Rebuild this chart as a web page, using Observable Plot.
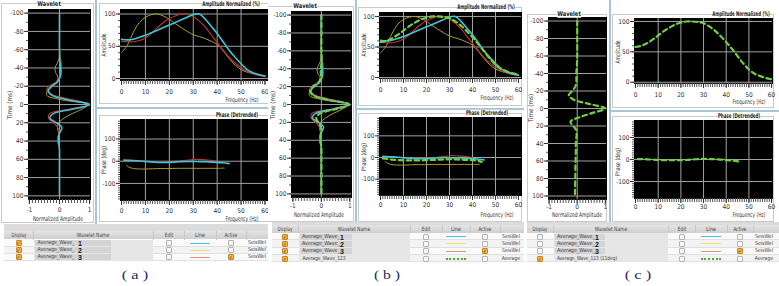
<!DOCTYPE html>
<html><head><meta charset="utf-8">
<script src="https://cdn.jsdelivr.net/npm/d3@7"></script>
<script src="https://cdn.jsdelivr.net/npm/@observablehq/plot@0.6"></script>
<style>
body{margin:0;background:#fff;}
#root{position:relative;width:779px;height:286px;overflow:hidden;background:#fff;}
</style></head><body><div id="root"></div>
<script>
// ================= DATA =================
const waveTime = [-100,-80,-60,-50,-45,-40,-35,-30,-25,-20,-15,-10,-5,0,5,10,15,20,25,30,35,40,45,50,60,80,100];
const wave1   = [0,0,0,0.01,0.02,0.04,0.05,0.02,-0.06,-0.25,-0.37,-0.25,0.3,1.0,0.45,-0.2,-0.32,-0.1,0.08,0.02,-0.03,-0.03,-0.01,0,0,0,0];
const wave2   = [0,0,0,-0.02,-0.08,-0.15,-0.13,-0.05,-0.1,-0.28,-0.4,-0.42,0.1,0.95,0.75,0.42,0.15,-0.02,-0.07,-0.04,0,-0.02,0,0,0,0,0];
const wave3   = [0,0,0,0.03,0.06,0.05,0.03,0,-0.1,-0.35,-0.42,-0.18,0.45,1.0,0.35,-0.33,-0.36,-0.2,-0.06,0,-0.05,-0.07,-0.03,0,0,0,0];
const waveAvg = [0,0,0,0.01,0,-0.02,-0.02,-0.01,-0.09,-0.29,-0.4,-0.28,0.28,0.98,0.52,-0.04,-0.18,-0.11,-0.02,-0.01,-0.03,-0.04,-0.01,0,0,0,0];
const waveRot = [0,0,0,-0.01,-0.02,-0.03,-0.03,-0.03,-0.07,-0.18,-0.3,-0.12,0.45,1.0,0.55,0.08,-0.24,-0.14,-0.03,-0.02,-0.04,-0.05,-0.05,-0.05,-0.06,-0.07,-0.08];

const freq   = [0,2.5,5,7.5,10,12.5,15,17.5,20,22.5,25,27.5,30,32.5,35,37.5,40,42.5,45,47.5,50,52.5,55,57.5,60];
const amp1   = [61,60,61,64,67,71,75,79,83,87,91,95,99,100,92,81,70,57,44,33,23,14,9,6,4];
const amp2   = [40,52,72,87,95,99,100,97,92,85,79,73,68,65,62,58,53,43,31,21,14,10,8,6,4];
const amp3   = [58,57,57,59,63,70,79,87,93,97,100,100,96,89,80,68,56,44,33,24,17,11,7,5,3];
const ampAvg = [58,60,64,70,77,84,90,95,98,100,100,99,97,92,85,76,66,55,43,31,21,14,10,7,5];

const phaseF1 = [1,3,5,8,10,13,15,18,20,23,25,28,30,33,35,38,40,42,45];
const phase1  = [5,4,3,1,-1,-3,-5,-6,-5,-3,-2,-1,-1,-2,-2,-4,-5,-7,-11];
const phaseF2 = [2,3,5,8,10,13,15,18,20,23,25,28,30,33,35,38,40,43];
const phase2  = [-18,-26,-33,-35,-35,-34,-33,-33,-33,-32,-32,-32,-32,-32,-32,-32,-32,-31];
const phaseF3 = [1,3,5,8,10,13,15,18,20,23,25,28,30,33,35,38,40];
const phase3  = [3,3,2,0,-1,-2,-2,-3,-2,0,2,5,8,8,6,3,0];
const phaseFA = [1,3,5,8,10,13,15,18,20,23,25,28,30,33,35,38,40,42,44];
const phaseAvg= [-4,-7,-10,-12,-13,-13,-13,-13,-12,-11,-10,-9,-8,-9,-10,-11,-12,-14,-20];
const phaseFR = [1,3,5,8,10,13,15,18,20,23,25,28,30,33,35,38,40,43,46];
const phaseRot= [2,2,1,-1,-2,-3,-3,-3,-3,-2,0,2,3,2,1,-1,-3,-5,-10];

const waveXTicks = [-1,0,1];
const waveYTicks = [-100,-80,-60,-40,-20,0,20,40,60,80,100];
const freqTicks  = [0,10,20,30,40,50,60];
const ampTicks   = [0,50,100];
const phaseTicks = [-100,0,100];

const panelCaptions = ["( a )","( b )","( c )"];
const tableHeaders  = ["Display","Wavelet Name","Edit","Line","Active"];
const rowNames  = ["Average_Wave_","Average_Wave_","Average_Wave_"];
const rowDigits = ["1","2","3"];
const avgNames  = ["Average_Wave_123","Average_Wave_123 (11deg)"];
const rowSource = ["SeisWel","SeisWel","SeisWel","Average"];

// ================= STYLE =================
const FONT = '"DejaVu Sans","Liberation Sans",Arial,sans-serif';
const C1 = "#3ec6d6", C2 = "#a89c30", C3 = "#b8342c", CG = "#72cc44";
const L1 = "#3cc8cf", L2 = "#f2e070", L3 = "#f08a7a", LG = "#44b02c";
const SEP = "#a6c5d6", BORDER = "#cacaca";

const root = document.getElementById("root");
function el(tag, css, text, parent) {
  const e = document.createElement(tag);
  Object.assign(e.style, css);
  if (text != null) e.textContent = text;
  (parent || root).appendChild(e);
  return e;
}
function box(x, y, w, h, css, parent) {
  return el("div", Object.assign({position:"absolute", left:x+"px", top:y+"px", width:w+"px", height:h+"px", boxSizing:"border-box"}, css || {}), null, parent);
}
// text fitted to a measured width w (along its direction), anchored start/middle/end
function txt(s, x, y, o, parent) {
  o = o || {};
  const anchor = o.anchor || "start";
  const e = el("div", {
    position:"absolute", left:"0px", top:y+"px", fontSize:(o.size||7)+"px",
    fontWeight:o.weight||"normal", color:o.color||"#333", fontFamily:o.family||FONT,
    fontStretch:"condensed", whiteSpace:"nowrap", lineHeight:"1", background:o.bg||"transparent",
    padding:o.pad||"0"
  }, s, parent);
  const W = e.offsetWidth;
  const target = o.w || W;
  const sx = target / W;
  let cx = anchor === "start" ? x + target / 2 : anchor === "middle" ? x : x - target / 2;
  if (o.rotate) cx = x;
  e.style.left = cx + "px";
  e.style.transform = `translate(-50%,-50%)` + (o.rotate ? ` rotate(${o.rotate}deg)` : "") + ` scaleX(${sx})`;
  return e;
}

const pts = (xs, ys, kx, ky) => xs.map((v, i) => ({[kx]: v, [ky]: ys[i]}));
const rng = (a, b, s) => d3.range(a, b + 1e-9, s).map(v => +v.toFixed(3));
const inside = (arr, d) => arr.filter(v => v >= Math.min(...d) && v <= Math.max(...d));

function plotPanel(parent, off, c) {
  const ml = 28, mr = 12, mt = 8, mb = 18;
  const svg = Plot.plot({
    width: c.fw + ml + mr, height: c.fh + mt + mb,
    marginLeft: ml, marginRight: mr, marginTop: mt, marginBottom: mb,
    x: {domain: c.xd, label: null},
    y: {domain: c.yd, reverse: !!c.rev, label: null},
    style: {background: "transparent", fontSize: "6.5px", fontFamily: FONT, fontStretch: "condensed", color: "#333", overflow: "visible"},
    marks: [
      Plot.frame({fill: "#000", stroke: "#000"}),
      Plot.gridX(inside(c.xGrid, c.xd), {stroke: "#a2a2a2", strokeOpacity: 1, strokeWidth: 1}),
      Plot.gridY(inside(c.yGrid, c.yd), {stroke: "#a2a2a2", strokeOpacity: 1, strokeWidth: 1}),
      Plot.axisX(inside(c.xMin, c.xd), {tickSize: 4, tickFormat: () => "", label: null, stroke: "#555"}),
      Plot.axisX(inside(c.xMaj, c.xd), {tickSize: 5, tickPadding: c.xlo - 8.3, tickFormat: d => String(d), label: null}),
      Plot.axisY(inside(c.yMin, c.yd), {tickSize: 2, tickFormat: () => "", label: null, stroke: "#555"}),
      Plot.axisY(inside(c.yMaj, c.yd), {tickSize: 4, tickPadding: 1, tickFormat: d => String(d), label: null}),
      ...c.marks
    ]
  });
  svg.style.position = "absolute";
  svg.style.left = (c.fx - ml - off) + "px";
  svg.style.top = (c.fy - mt) + "px";
  svg.style.maxWidth = "none";
  parent.appendChild(svg);
}

function waveMarks(list) {
  return list.map(([vals, color, w, dash]) =>
    Plot.line(pts(waveTime, vals, "t", "a"), {x: "a", y: "t", stroke: color, strokeWidth: w, strokeDasharray: dash, curve: "catmull-rom"}));
}
function ampMarks(list) {
  return list.map(([vals, color, w, dash]) =>
    Plot.line(pts(freq, vals, "f", "v"), {x: "f", y: "v", stroke: color, strokeWidth: w, strokeDasharray: dash, curve: "catmull-rom"}));
}
function phaseMarks(list) {
  return list.map(([fs, vals, color, w, dash]) =>
    Plot.line(pts(fs, vals, "f", "v"), {x: "f", y: "v", stroke: color, strokeWidth: w, strokeDasharray: dash, curve: "catmull-rom"}));
}

const waveCommon = {xMaj: waveXTicks, xMin: rng(-1, 1, 0.1), yMaj: waveYTicks, yMin: rng(-100, 100, 10), xGrid: [0], yGrid: waveYTicks, rev: true};
const ampCommon  = {xMaj: freqTicks, xMin: rng(0, 60, 1), yMaj: ampTicks, yMin: rng(0, 100, 10), xGrid: [10,20,30,40,50], yGrid: ampTicks, xlo: 12};
const phCommon   = {xMaj: freqTicks, xMin: rng(0, 60, 1), yMaj: phaseTicks, yMin: rng(-170, 180, 10), xGrid: [10,20,30,40,50], yGrid: phaseTicks};

const DASH = "4.5,3.5";
const wellWave = [[wave2, C2, 1], [wave3, C3, 1.2], [wave1, C1, 1.6]];
const wellAmp  = [[amp2, C2, 1], [amp3, C3, 1.2], [amp1, C1, 1.6]];
const wellPh   = [[phaseF2, phase2, C2, 1], [phaseF3, phase3, C3, 1.2], [phaseF1, phase1, C1, 1.6]];

const panels = [
  { // (a)
    L: 0, W: 268,
    groups: [[1,3,93,220],[99,3,172,101],[99,115,172,107]],
    vsep: 95, hsepY: 107, hsepX: [97, 268],
    wave: {fx:28, fy:9, fw:62, fh:190, xd:[-1.03,1.03], yd:[-104,104], xlo: 11.5},
    amp:  {fx:120, fy:9, fw:150, fh:71, xd:[-0.42,62.3], yd:[-3,107]},
    ph:   {fx:120, fy:119, fw:150, fh:81, xd:[-0.42,62.3], yd:[-177,188], xlo: 11},
    waveLines: wellWave, ampLines: wellAmp, phLines: wellPh,
    titles: {wave:[49,3.5], amp:[260,3.5], ph:[258,115]},
    labels: {time:[10,105], norm:[58,218.5], ampl:[104,45], f1:[258,100], phd:[104,160], f2:[258,218.5]}
  },
  { // (b)
    L: 268, W: 256,
    groups: [[266,6,88,216],[358,7,164,99],[358,113,164,109]],
    vsep: 355, hsepY: 108, hsepX: [357, 524],
    wave: {fx:291, fy:11, fw:60, fh:186, xd:[-1.05,1.06], yd:[-104,104], xlo: 9},
    amp:  {fx:379, fy:12, fw:142, fh:66, xd:[-0.43,61.3], yd:[-1.6,106.5]},
    ph:   {fx:379, fy:117, fw:142, fh:78, xd:[-0.43,61.3], yd:[-175.5,184.8], xlo: 10.5},
    waveLines: wellWave.concat([[waveAvg, CG, 2.2, DASH]]),
    ampLines: wellAmp.concat([[ampAvg, CG, 2.2, DASH]]),
    phLines: wellPh.concat([[phaseFA, phaseAvg, CG, 2.2, DASH]]),
    titles: {wave:[305,6], amp:[515,7], ph:[508,113]},
    labels: {time:[273,105], norm:[319,214.5], ampl:[364,45], f1:[513,98], phd:[364,157], f2:[513,214.5]}
  },
  { // (c)
    L: 524, W: 255,
    groups: [[527,14,80,208],[612,14,162,94],[612,116,162,106]],
    vsep: 609, hsepY: 110, hsepX: [611, 779],
    wave: {fx:548, fy:17, fw:58, fh:182, xd:[-1.02,1.04], yd:[-104,104], xlo: 8.5},
    amp:  {fx:634, fy:18, fw:138, fh:65, xd:[-0.44,60.4], yd:[-2.1,104.9]},
    ph:   {fx:634, fy:120, fw:138, fh:78, xd:[-0.44,60.4], yd:[-177,177], xlo: 9},
    waveLines: [[waveRot, CG, 2.2, DASH]],
    ampLines: [[ampAvg, CG, 2.2, DASH]],
    phLines: [[phaseFR, phaseRot, CG, 2.2, DASH]],
    titles: {wave:[569,14], amp:[770,14], ph:[760,116]},
    labels: {time:[531,108], norm:[577,214.5], ampl:[618,52], f1:[765,102], phd:[618,162], f2:[765,214.5]}
  }
];

panels.forEach(p => {
  const clip = box(p.L, 0, p.W, 224, {overflow: "hidden"});
  p.groups.forEach(g => box(g[0] - p.L, g[1], g[2], g[3], {border: "1px solid " + BORDER}, clip));
  box(p.vsep - p.L, 0, 2, 224, {background: SEP}, clip);
  box(p.hsepX[0] - p.L, p.hsepY, p.hsepX[1] - p.hsepX[0], 2, {background: SEP}, clip);
  plotPanel(clip, p.L, Object.assign({}, waveCommon, p.wave, {marks: waveMarks(p.waveLines)}));
  plotPanel(clip, p.L, Object.assign({}, ampCommon, p.amp, {marks: ampMarks(p.ampLines)}));
  plotPanel(clip, p.L, Object.assign({}, phCommon, p.ph, {marks: phaseMarks(p.phLines)}));
  const T = p.titles, Lb = p.labels, o = p.L;
  const tOpt = {weight: "bold", bg: "#fff", color: "#222", size: 6.5};
  txt("Wavelet", T.wave[0] - o, T.wave[1], Object.assign({anchor: "middle", w: 24}, tOpt), clip);
  txt("Amplitude Normalized (%)", T.amp[0] - o, T.amp[1], Object.assign({anchor: "end", w: 58}, tOpt), clip);
  txt("Phase (Detrended)", T.ph[0] - o, T.ph[1], Object.assign({anchor: "end", w: 42}, tOpt), clip);
  const aOpt = {size: 6.5, color: "#333"};
  txt("Time (ms)", Lb.time[0] - o, Lb.time[1], Object.assign({anchor: "middle", rotate: -90, w: 28}, aOpt), clip);
  txt("Normalized Amplitude", Lb.norm[0] - o, Lb.norm[1], Object.assign({anchor: "middle", w: 50}, aOpt), clip);
  txt("Amplitude", Lb.ampl[0] - o, Lb.ampl[1], Object.assign({anchor: "middle", rotate: -90, w: 23}, aOpt), clip);
  txt("Frequency (Hz)", Lb.f1[0] - o, Lb.f1[1], Object.assign({anchor: "end", w: 33}, aOpt), clip);
  txt("Phase (deg)", Lb.phd[0] - o, Lb.phd[1], Object.assign({anchor: "middle", rotate: -90, w: 28}, aOpt), clip);
  txt("Frequency (Hz)", Lb.f2[0] - o, Lb.f2[1], Object.assign({anchor: "end", w: 33}, aOpt), clip);
});

// ---------- tables ----------
function checkbox(cx, cy, checked, parent) {
  const b = box(cx - 3, cy - 3, 6, 6, {border: "1px solid " + (checked ? "#c8862a" : "#b4b4b4"), background: checked ? "#f2b03c" : "#f6f6f6", borderRadius: "1px"}, parent);
  if (checked) txt("✓", 2, 2, {size: 5, color: "#7a4000", anchor: "middle"}, b);
}
function lineSample(x, cy, w, color, dotted, parent) {
  if (dotted) box(x, cy - 1, w, 2, {borderTop: "2px dotted " + color}, parent);
  else box(x, cy - 0.5, w, 1, {background: color}, parent);
}

const tables = [
  {edges: [4, 33, 153, 184, 216, 246, 268], band: [224, 7], head: [231, 8], rowTop: 239.5, rowH: 7,
   rows: [0,1,2], display: [true,true,true,false], active: [false,false,true,false], avgName: null, grayW: 76, digitOff: 45, nameW: 37, L: 0, W: 268},
  {edges: [272, 298, 410, 442, 470, 500, 524], band: [222, 3], head: [225, 8], rowTop: 233, rowH: 7.3,
   rows: [0,1,2,3], display: [true,true,true,true], active: [false,false,true,false], avgName: avgNames[0], avgW: 43, grayW: 52, digitOff: 42, nameW: 38, L: 268, W: 256},
  {edges: [527, 553, 668, 695, 727, 753, 779], band: [222, 3], head: [225, 8], rowTop: 233, rowH: 7.3,
   rows: [0,1,2,3], display: [false,false,false,true], active: [false,false,true,false], avgName: avgNames[1], avgW: 60, grayW: 50, digitOff: 42, nameW: 38, L: 524, W: 255}
];
const lineColors = [L1, L2, L3, LG];
const headW = [15, 32, 8, 10, 13];

tables.forEach(t => {
  const o = t.L;
  const wrap = box(o, 0, t.W, 286, {overflow: "hidden"});
  const E = t.edges.map(v => v - o);
  box(E[0], t.band[0], E[6] - E[0], t.band[1], {background: "#dcdcdc"}, wrap);
  box(E[0], t.head[0], E[6] - E[0], t.head[1], {background: "linear-gradient(#e4e4e4,#cfcfcf)"}, wrap);
  const hy = t.head[0] + t.head[1] / 2;
  tableHeaders.forEach((h, i) => txt(h, (E[i] + E[i + 1]) / 2, hy, {anchor: "middle", size: 6, color: "#444", w: headW[i]}, wrap));
  for (let i = 1; i < 6; i++) box(E[i], t.head[0], 1, t.head[1] + t.rows.length * t.rowH, {background: "#c8c8c8"}, wrap);
  t.rows.forEach((r, ri) => {
    const y = t.rowTop + ri * t.rowH, cy = y + t.rowH / 2;
    box(E[0], y, E[6] - E[0], t.rowH, {background: ri % 2 ? "#f3f3f3" : "#fafafa", borderBottom: "1px solid #e0e0e0"}, wrap);
    box(E[1] + 1, y, E[2] - E[1] - 1, t.rowH, {background: "#e6e6e6"}, wrap);
    checkbox((E[0] + E[1]) / 2, cy, t.display[ri], wrap);
    if (r < 3) {
      box(E[1] + 2, y + 0.5, t.grayW, t.rowH - 1, {background: "#d4d4d4"}, wrap);
      txt(rowNames[r], E[1] + 4, cy, {size: 5.5, color: "#444", w: t.nameW}, wrap);
      txt(rowDigits[r], E[1] + t.digitOff, cy, {size: 7, weight: "bold", color: "#111", family: '"Liberation Sans",Arial,sans-serif'}, wrap);
    } else {
      txt(t.avgName, E[1] + 4, cy, {size: 5.5, color: "#444", w: t.avgW}, wrap);
    }
    checkbox((E[2] + E[3]) / 2, cy, false, wrap);
    lineSample((E[3] + E[4]) / 2 - 10, cy, 20, lineColors[r], r === 3, wrap);
    checkbox((E[4] + E[5]) / 2, cy, t.active[ri], wrap);
    txt(rowSource[r], E[5] + 2, cy, {size: 5.5, color: "#444", w: 18}, wrap);
  });
});

// captions
[[135, 275], [387, 275], [638, 275]].forEach((c, i) =>
  txt(panelCaptions[i], c[0], c[1], {anchor: "middle", size: 12, color: "#1c2c5c", w: 26, family: '"Liberation Serif","DejaVu Serif",serif'}));
</script></body></html>
